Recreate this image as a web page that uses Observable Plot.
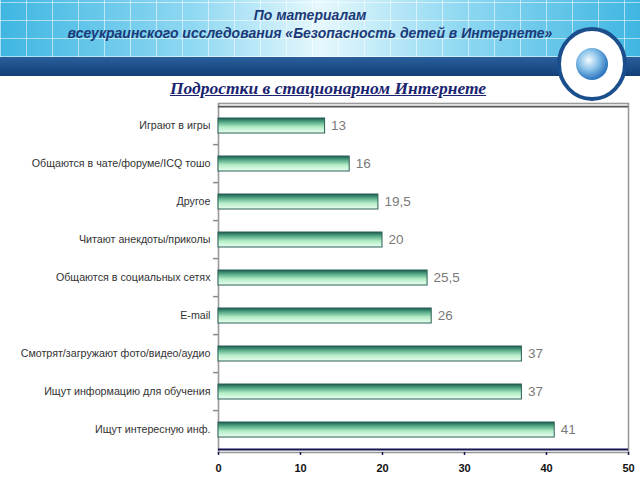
<!DOCTYPE html>
<html><head><meta charset="utf-8">
<script src="https://cdn.jsdelivr.net/npm/d3@7"></script>
<script src="https://cdn.jsdelivr.net/npm/@observablehq/plot@0.6"></script>
<style>
body{margin:0;background:#fff;}
#page{position:relative;width:640px;height:480px;overflow:hidden;background:#fff;font-family:"Liberation Sans",Arial,sans-serif;}
#hdr{position:absolute;left:0;top:0;width:640px;height:57px;
 background:
  repeating-linear-gradient(90deg, rgba(255,255,255,0.55) 0 1px, transparent 1px 26px),
  repeating-linear-gradient(0deg, rgba(255,255,255,0.55) 0 1px, transparent 1px 18px),
  linear-gradient(90deg,#3fb6e2 0%,#8fd8f2 30%,#e6f8fd 50%,#8fd8f2 72%,#3fb6e2 100%);}
#band{position:absolute;left:0;top:57px;width:640px;height:19px;background:linear-gradient(180deg,#2a5f9c,#123f78);}
#sub{position:absolute;left:0;top:6px;width:620px;text-align:center;color:#1c3a78;font-style:italic;font-weight:bold;font-size:14px;line-height:18px;}
#title{position:absolute;left:0;top:78px;width:656px;text-align:center;color:#1a2470;font-family:"Liberation Serif","DejaVu Serif",serif;font-style:italic;font-weight:bold;font-size:17.5px;text-decoration:underline;}
#globe{position:absolute;left:556px;top:27px;z-index:2;}
#chart{position:absolute;left:0;top:95px;z-index:1;}
</style></head>
<body><div id="page">
<div id="hdr"></div><div id="band"></div>
<div id="sub">По материалам<br>всеукраинского исследования «Безопасность детей в Интернете»</div>
<svg id="globe" width="72" height="74"><defs><radialGradient id="gl" cx="40%" cy="38%" r="60%"><stop offset="0" stop-color="#f4fbff"/><stop offset="0.5" stop-color="#8cc4ea"/><stop offset="1" stop-color="#2f79c0"/></radialGradient></defs>
<ellipse cx="36" cy="37" rx="33" ry="35" fill="#fff" stroke="#1b4e8c" stroke-width="4"/>
<circle cx="36" cy="37" r="16" fill="url(#gl)"/></svg>
<div id="title">Подростки в стационарном Интернете</div>
<div id="chart"></div>
</div>
<script>
const categories = [
 "Играют в игры",
 "Общаются в чате/форуме/ICQ тошо",
 "Другое",
 "Читают анекдоты/приколы",
 "Общаются в социальных сетях",
 "E-mail",
 "Смотрят/загружают фото/видео/аудио",
 "Ищут информацию для обучения",
 "Ищут интересную инф."
];
const values = [13, 16, 19.5, 20, 25.5, 26, 37, 37, 41];
const xTicks = [0, 10, 20, 30, 40, 50];
const data = categories.map((c, i) => ({cat: c, v: values[i]}));
const fmt = v => String(v).replace(".", ",");
const H = 385, mT = 8, mB = 28;
const half = (H - mT - mB) / categories.length / 2;

const plot = Plot.plot({
  width: 640, height: H,
  marginLeft: 218, marginRight: 12, marginTop: mT, marginBottom: mB,
  style: {fontFamily: "Liberation Sans, Arial, sans-serif", background: "transparent"},
  x: {domain: [0, 50], ticks: xTicks, label: null},
  y: {domain: categories, paddingInner: 0.61, paddingOuter: 0.305, label: null},
  marks: [
    Plot.frame({stroke: "#999", strokeWidth: 1.6}),
    Plot.ruleY([categories[0]], {y: d => d, dy: -half, stroke: "#555", strokeWidth: 1.6}),
    Plot.barX(data, {y: "cat", x: "v", fill: "url(#barg)", stroke: "#2b5f58", strokeWidth: 1}),
    Plot.text(data, {y: "cat", x: "v", text: d => fmt(d.v), textAnchor: "start", dx: 6, fill: "#7a7a7a", fontSize: 13.5}),
    Plot.ruleY(categories.slice(1), {y: d => d, x1: -0.6, x2: 0, dy: -half, stroke: "#888", strokeWidth: 1.5}),
    Plot.ruleY([categories[categories.length - 1]], {y: d => d, dy: half, stroke: "#141450", strokeWidth: 2}),
    Plot.axisY({tickSize: 0, tickPadding: 8, fontSize: 10.7, fill: "#333"}),
    Plot.axisX({ticks: xTicks, tickSize: 3, tickPadding: 9, fontSize: 11, fontWeight: "bold", fill: "#111", stroke: "#141450", strokeWidth: 1.5, label: null})
  ]
});
const ns = "http://www.w3.org/2000/svg";
const defs = document.createElementNS(ns, "defs");
defs.innerHTML = '<linearGradient id="barg" x1="0" y1="0" x2="0" y2="1">' +
  '<stop offset="0" stop-color="#1d5a4e"/><stop offset="0.25" stop-color="#4fa482"/>' +
  '<stop offset="0.6" stop-color="#b4ecc6"/><stop offset="1" stop-color="#eafff0"/></linearGradient>';
plot.insertBefore(defs, plot.firstChild);
document.getElementById("chart").appendChild(plot);
</script>
</body></html>
